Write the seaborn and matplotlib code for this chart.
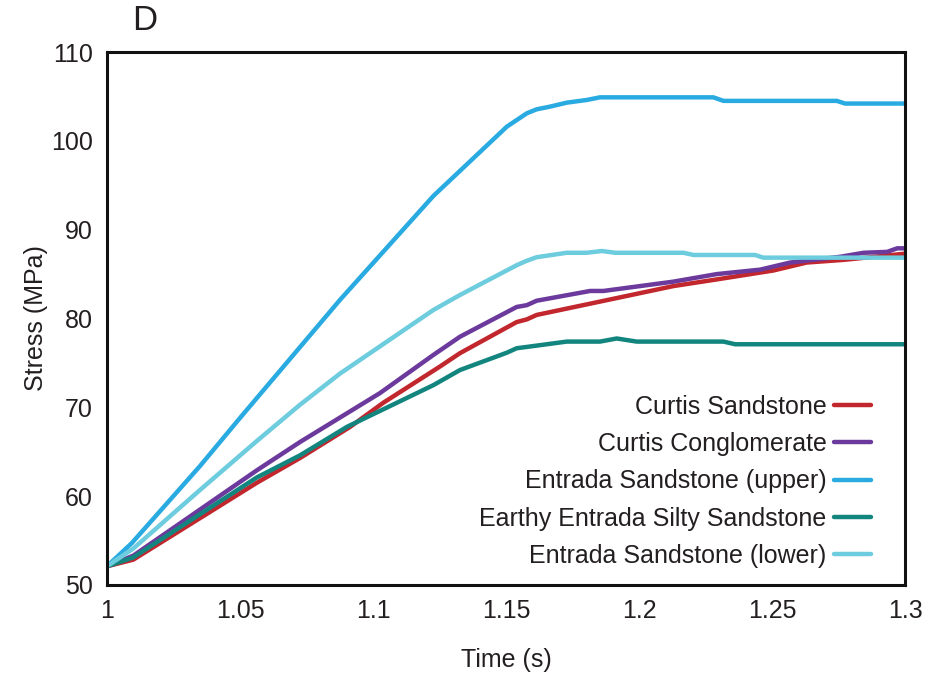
import numpy as np
import pandas as pd
import matplotlib
matplotlib.use("Agg")
import matplotlib.pyplot as plt
import seaborn as sns

series_names = ["Curtis Sandstone", "Curtis Conglomerate", "Entrada Sandstone (upper)",
                "Earthy Entrada Silty Sandstone", "Entrada Sandstone (lower)"]
colors = ["#C1272D", "#6B3A9C", "#29ABE2", "#13857F", "#6DCCDD"]

t_red = [1.0, 1.0099, 1.0563, 1.0726, 1.0914, 1.1038, 1.1252, 1.1327, 1.154, 1.1578,
         1.1615, 1.1916, 1.2129, 1.2292, 1.2504, 1.263, 1.2768, 1.3]
v_red = [52.1, 52.85, 61.5, 64.3, 67.8, 70.5, 74.6, 76.1, 79.6, 79.9,
         80.4, 82.3, 83.65, 84.4, 85.4, 86.3, 86.6, 87.3]

t_purple = [1.0, 1.0099, 1.0563, 1.0726, 1.1026, 1.1227, 1.1327, 1.154, 1.1578, 1.1615,
            1.1816, 1.1866, 1.2129, 1.2292, 1.2455, 1.2568, 1.2756, 1.2844, 1.2932,
            1.297, 1.3]
v_purple = [52.1, 53.3, 62.9, 66.1, 71.6, 75.9, 77.95, 81.3, 81.5, 82.0,
            83.1, 83.1, 84.15, 85.0, 85.5, 86.3, 86.95, 87.4, 87.5,
            87.9, 87.9]

t_upper = [1.0, 1.0093, 1.035, 1.05, 1.0876, 1.1227, 1.1503, 1.1578, 1.1615, 1.1665,
           1.1728, 1.1803, 1.1853, 1.2279, 1.2317, 1.2743, 1.2774, 1.3]
v_upper = [52.1, 54.7, 63.4, 68.8, 82.1, 93.8, 101.6, 103.1, 103.55, 103.85,
           104.3, 104.6, 104.9, 104.9, 104.5, 104.5, 104.2, 104.2]

t_teal = [1.0, 1.0099, 1.0563, 1.0726, 1.0902, 1.1227, 1.1327, 1.1503, 1.154, 1.1578,
          1.1728, 1.1853, 1.1916, 1.1991, 1.2317, 1.2361, 1.3]
v_teal = [52.1, 53.1, 62.1, 64.6, 67.8, 72.5, 74.2, 76.15, 76.65, 76.8,
          77.4, 77.4, 77.75, 77.4, 77.4, 77.1, 77.1]

t_lower = [1.0, 1.0099, 1.035, 1.0563, 1.0726, 1.0876, 1.1227, 1.1327, 1.154, 1.1578,
           1.1615, 1.1728, 1.1803, 1.186, 1.191, 1.2167, 1.2205, 1.2436, 1.2467, 1.3]
v_lower = [52.1, 54.1, 60.7, 66.2, 70.3, 73.8, 80.96, 82.65, 86.0, 86.5,
           86.9, 87.4, 87.4, 87.6, 87.4, 87.4, 87.15, 87.15, 86.85, 86.85]

x_ticks = [1, 1.05, 1.1, 1.15, 1.2, 1.25, 1.3]
x_tick_labels = ["1", "1.05", "1.1", "1.15", "1.2", "1.25", "1.3"]
y_ticks = [50, 60, 70, 80, 90, 100, 110]

frames = []
for name, t, v in zip(series_names,
                      [t_red, t_purple, t_upper, t_teal, t_lower],
                      [v_red, v_purple, v_upper, v_teal, v_lower]):
    frames.append(pd.DataFrame({"Time": t, "Stress": v, "Rock": name}))
df = pd.concat(frames, ignore_index=True)

sns.set_theme(style="white")
plt.rcParams["font.family"] = ["Liberation Sans", "DejaVu Sans"]

fig = plt.figure(figsize=(9.38, 6.73), dpi=100)
ax = fig.add_axes([0.114, 0.1308, 0.851, 0.7919])

sns.lineplot(data=df, x="Time", y="Stress", hue="Rock", hue_order=series_names,
             palette=colors, estimator=None, sort=False, linewidth=3.2, ax=ax,
             solid_capstyle="round")

ax.set_xlim(1, 1.3)
ax.set_ylim(50, 110)
ax.set_xticks(x_ticks)
ax.set_xticklabels(x_tick_labels)
ax.set_yticks(y_ticks)
ax.tick_params(axis="both", length=0, labelsize=18, colors="#231F20", pad=10)
for s in ax.spines.values():
    s.set_visible(True)
    s.set_linewidth(2.2)
    s.set_color("#111111")

ax.set_xlabel("Time (s)", fontsize=18, color="#231F20", labelpad=18)
ax.set_ylabel("Stress (MPa)", fontsize=18, color="#231F20", labelpad=2)

handles, labels = ax.get_legend_handles_labels()
for h in handles:
    h.set_linewidth(3.2)
    h.set_solid_capstyle("round")
leg = ax.legend(handles, labels, loc="lower right", bbox_to_anchor=(0.986, -0.01),
                frameon=False, markerfirst=False, fontsize=18, handlelength=1.5,
                handletextpad=0.3, labelspacing=0.53)
for txt in leg.get_texts():
    txt.set_color("#231F20")

fig.text(145 / 938, 1 - 20 / 673, "D", fontsize=25, color="#231F20",
         ha="center", va="center")

fig.savefig("out.png", dpi=100)
